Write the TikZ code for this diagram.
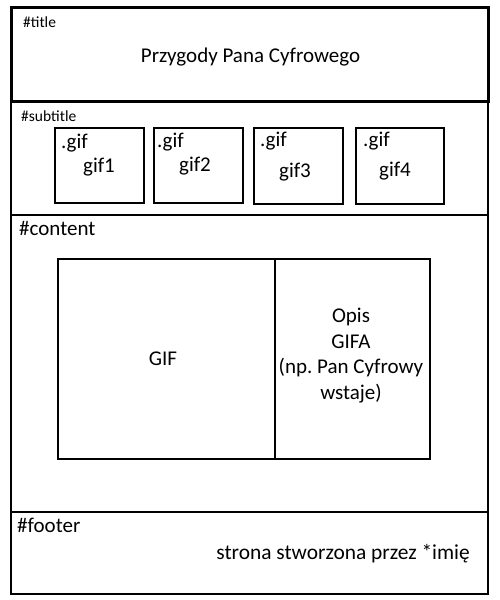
\documentclass[tikz,border=0pt]{standalone}
\usepackage{fontspec}
\setmainfont{Carlito}
\frenchspacing
\tikzset{
  frame/.style={draw=black, line width=2pt},
  thickframe/.style={draw=black, line width=3pt},
  small/.style={inner sep=0pt, font=\fontsize{15.5}{18}\selectfont},
  big/.style={inner sep=0pt, font=\fontsize{21}{26}\selectfont},
}
\begin{document}
\begin{tikzpicture}[x=1pt,y=-1pt]
\useasboundingbox (0,0) rectangle (499,600);
% sections
\draw[frame] (11,101) rectangle (488,594);
\draw[frame] (11,215) -- (488,215);
\draw[frame] (11,512) -- (488,512);
\draw[thickframe] (11.5,7.5) rectangle (488,101);
% title
\node[small, anchor=base west] (ltitle) at (23,27) {\#title};
\node[big, anchor=base] (title) at (250.5,62) {Przygody Pana Cyfrowego};
% subtitle
\node[small, anchor=base west] (lsub) at (21,121) {\#subtitle};
\draw[frame] (55,128) rectangle (144,203);
\draw[frame] (154,128) rectangle (243,203);
\draw[frame] (254,128) rectangle (343,204);
\draw[frame] (356,128) rectangle (444,204);
\node[big, anchor=base west] (g1a) at (61,148) {.gif};
\node[big, anchor=base] (g1) at (99,172) {gif1};
\node[big, anchor=base west] (g2a) at (157,147) {.gif};
\node[big, anchor=base] (g2) at (195,171) {gif2};
\node[big, anchor=base west] (g3a) at (260,146) {.gif};
\node[big, anchor=base] (g3) at (295,177) {gif3};
\node[big, anchor=base west] (g4a) at (363,146) {.gif};
\node[big, anchor=base] (g4) at (395,176) {gif4};
% content
\node[big, anchor=base west] (lcont) at (19,235) {\#content};
\draw[frame] (58,259) rectangle (430,459);
\draw[frame] (275,259) -- (275,459);
\node[big, anchor=base] (gif) at (163,365) {GIF};
\node[big, anchor=base] (o1) at (351,322) {Opis};
\node[big, anchor=base] (o2) at (351,348) {GIFA};
\node[big, anchor=base] (o3) at (351,373) {(np.\ Pan Cyfrowy};
\node[big, anchor=base] (o4) at (351,399) {wstaje)};
% footer
\node[big, anchor=base west] (lfoot) at (17,532) {\#footer};
\node[big, anchor=base east, font=\fontsize{21.4}{26}\selectfont] (foot) at (470,559) {strona stworzona przez *imię};
\end{tikzpicture}
\end{document}
